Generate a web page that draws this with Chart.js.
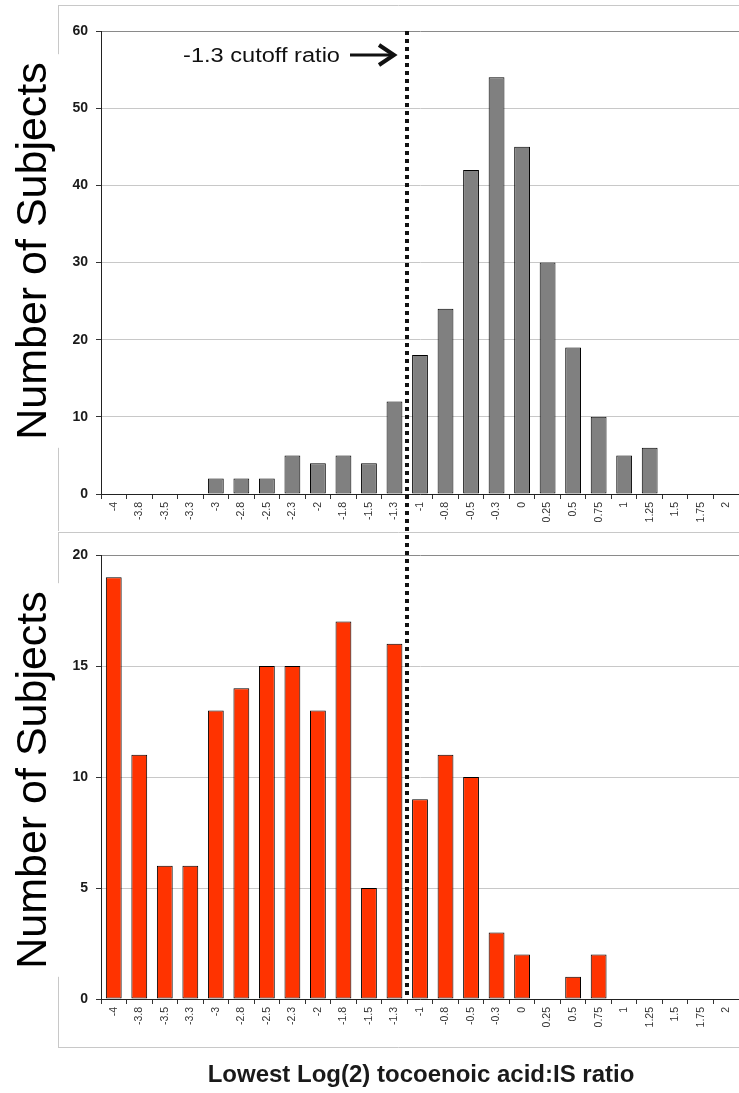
<!DOCTYPE html>
<html>
<head>
<meta charset="utf-8">
<script src="https://cdn.jsdelivr.net/npm/chart.js@4/dist/chart.umd.min.js"></script>
<style>
  html, body { margin: 0; padding: 0; background: #fff; }
  #wrap { position: relative; width: 739px; height: 1093px; }
  #wrap canvas { position: absolute; left: 0; }
  #topChart { top: 0; }
  #bottomChart { top: 531px; }
</style>
</head>
<body>
<div id="wrap">
  <canvas id="topChart" width="739" height="531"></canvas>
  <canvas id="bottomChart" width="739" height="562"></canvas>
</div>
<script>
// Data
const ratioLabels = ['-4', '-3.8', '-3.5', '-3.3', '-3', '-2.8', '-2.5', '-2.3', '-2', '-1.8', '-1.5', '-1.3',
                     '-1', '-0.8', '-0.5', '-0.3', '0', '0.25', '0.5', '0.75', '1', '1.25', '1.5', '1.75', '2'];
const topCounts    = [0, 0, 0, 0, 2, 2, 2, 5, 4, 5, 4, 12, 18, 24, 42, 54, 45, 30, 19, 10, 5, 6, 0, 0, 0];
const bottomCounts = [19, 11, 6, 6, 13, 14, 15, 15, 13, 17, 5, 16, 9, 11, 10, 3, 2, 0, 1, 2, 0, 0, 0, 0, 0];
const topTicks = [0, 10, 20, 30, 40, 50, 60];
const bottomTicks = [0, 5, 10, 15, 20];
const cutoffIndex = 11.5; // between -1.3 and -1
const cutoffText = '-1.3 cutoff ratio';
const yTitle = 'Number of Subjects';
const xTitle = 'Lowest Log(2) tocoenoic acid:IS ratio';

const FONT = '"Liberation Sans", Arial, sans-serif';

// x position of the cutoff line, from the category scale
function cutoffX(chart) {
    const x = chart.scales.x;
    const a = x.getPixelForValue(Math.floor(cutoffIndex));
    const b = x.getPixelForValue(Math.ceil(cutoffIndex));
    return a + (b - a) * (cutoffIndex - Math.floor(cutoffIndex));
}

// frame, titles, dotted cutoff line, arrow
const decorPlugin = {
    id: 'decor',
    beforeDraw(chart, args, opts) {
        const ctx = chart.ctx;
        ctx.save();
        ctx.fillStyle = '#fff';
        ctx.fillRect(0, 0, chart.width, chart.height);

        // outer frame
        ctx.strokeStyle = '#c8c8c8';
        ctx.lineWidth = 1;
        ctx.beginPath();
        opts.frame.forEach(s => { ctx.moveTo(s[0], s[1]); ctx.lineTo(s[2], s[3]); });
        ctx.stroke();

        // y title with white box over the frame
        ctx.font = '43px ' + FONT;
        const w = ctx.measureText(yTitle).width;
        ctx.fillStyle = '#fff';
        ctx.fillRect(opts.yTitleX - 34, opts.yTitleY - w / 2 - 8, 50, w + 16);
        ctx.translate(opts.yTitleX, opts.yTitleY);
        ctx.rotate(-Math.PI / 2);
        ctx.fillStyle = '#000';
        ctx.textAlign = 'center';
        ctx.textBaseline = 'alphabetic';
        ctx.fillText(yTitle, 0, 0);
        ctx.restore();
    },
    afterDraw(chart, args, opts) {
        const ctx = chart.ctx;
        const area = chart.chartArea;
        const px = Math.round(cutoffX(chart));
        ctx.save();

        // dotted cutoff line
        ctx.strokeStyle = '#111';
        ctx.lineWidth = 4;
        ctx.setLineDash([4, 4]);
        ctx.lineDashOffset = opts.dashOffset || 0;
        ctx.beginPath();
        ctx.moveTo(px, opts.lineTop === 'area' ? area.top : 0);
        ctx.lineTo(px, opts.lineBottom === 'area' ? area.bottom : chart.height);
        ctx.stroke();
        ctx.setLineDash([]);

        if (opts.showCutoffLabel) {
            const y = area.top + 24;
            // arrow
            ctx.strokeStyle = '#111';
            ctx.lineWidth = 3;
            ctx.beginPath();
            ctx.moveTo(px - 57, y);
            ctx.lineTo(px - 14, y);
            ctx.stroke();
            ctx.lineWidth = 4;
            ctx.beginPath();
            ctx.moveTo(px - 28, y - 10);
            ctx.lineTo(px - 13, y);
            ctx.lineTo(px - 28, y + 10);
            ctx.stroke();
            // label, slightly stretched like the original
            ctx.font = '20px ' + FONT;
            ctx.fillStyle = '#111';
            ctx.textAlign = 'right';
            ctx.textBaseline = 'middle';
            ctx.translate(px - 67, y + 1);
            ctx.scale(1.18, 1);
            ctx.fillText(cutoffText, 0, 0);
            ctx.setTransform(1, 0, 0, 1, 0, 0);
        }

        if (opts.xTitleY) {
            ctx.font = 'bold 24px ' + FONT;
            ctx.fillStyle = '#1a1a1a';
            ctx.textAlign = 'center';
            ctx.textBaseline = 'middle';
            ctx.fillText(xTitle, opts.xTitleX, opts.xTitleY);
        }
        ctx.restore();
    }
};

function makeChart(id, counts, ticks, color, pad, decor) {
    const max = ticks[ticks.length - 1];
    return new Chart(document.getElementById(id), {
        type: 'bar',
        data: {
            labels: ratioLabels,
            datasets: [{
                data: counts,
                backgroundColor: color,
                borderColor: '#000',
                borderWidth: 1,
                borderSkipped: false,
                barPercentage: 0.62,
                categoryPercentage: 1
            }]
        },
        options: {
            responsive: false,
            animation: false,
            devicePixelRatio: 1,
            layout: { padding: pad },
            plugins: {
                legend: { display: false },
                tooltip: { enabled: false },
                decor: decor
            },
            scales: {
                x: {
                    offset: true,
                    grid: {
                        offset: true,
                        drawOnChartArea: false,
                        drawTicks: true,
                        tickLength: 5,
                        color: '#333'
                    },
                    border: { color: '#222' },
                    ticks: {
                        autoSkip: false,
                        minRotation: 90,
                        maxRotation: 90,
                        padding: 3,
                        color: '#333',
                        font: { family: FONT, size: 10.5 }
                    },
                    afterFit(scale) {
                        scale.height = 37;
                        scale.paddingLeft = 0;
                        scale.paddingRight = 0;
                    }
                },
                y: {
                    min: 0,
                    max: max,
                    afterBuildTicks(scale) { scale.ticks = ticks.map(v => ({ value: v })); },
                    grid: {
                        color: c => (c.tick && c.tick.value === max) ? '#8a8a8a' : '#c8c8c8',
                        tickLength: 5,
                        tickColor: '#333'
                    },
                    border: { color: '#222' },
                    ticks: {
                        padding: 8,
                        color: '#1a1a1a',
                        font: { family: FONT, size: 14, weight: 'bold' }
                    },
                    afterFit(scale) { scale.width = 101; }
                }
            }
        },
        plugins: [decorPlugin]
    });
}

makeChart('topChart', topCounts, topTicks, '#808080',
    { top: 31, left: 0, right: 0, bottom: 0 },
    {
        frame: [[58, 5.5, 739, 5.5], [58.5, 5, 58.5, 531]],
        yTitleX: 46, yTitleY: 251,
        lineTop: 'area', lineBottom: 'canvas',
        showCutoffLabel: true
    });

makeChart('bottomChart', bottomCounts, bottomTicks, '#ff3300',
    { top: 24, left: 0, right: 0, bottom: 57 },
    {
        frame: [[58, 1.5, 739, 1.5], [58.5, 1, 58.5, 516.5], [58, 516.5, 739, 516.5]],
        yTitleX: 46, yTitleY: 249,
        lineTop: 'canvas', lineBottom: 'area',
        dashOffset: 4,
        showCutoffLabel: false,
        xTitleX: 421, xTitleY: 544
    });
</script>
</body>
</html>
